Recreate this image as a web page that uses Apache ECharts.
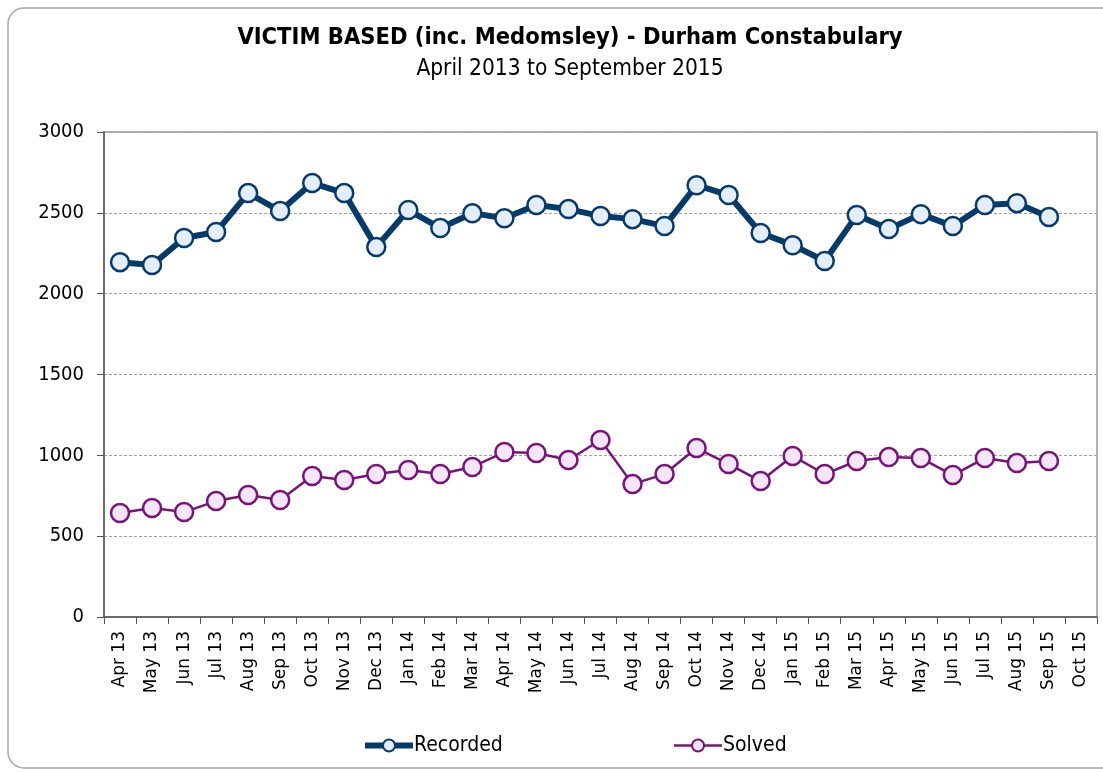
<!DOCTYPE html>
<html>
<head>
<meta charset="utf-8">
<script src="https://cdn.jsdelivr.net/npm/echarts@6/dist/echarts.min.js"></script>
<style>
  html, body { margin: 0; padding: 0; background: #fff; }
  #main { width: 1103px; height: 772px; }
</style>
</head>
<body>
<div id="main"></div>
<script>
var months = ['Apr 13','May 13','Jun 13','Jul 13','Aug 13','Sep 13','Oct 13','Nov 13','Dec 13',
  'Jan 14','Feb 14','Mar 14','Apr 14','May 14','Jun 14','Jul 14','Aug 14','Sep 14','Oct 14','Nov 14','Dec 14',
  'Jan 15','Feb 15','Mar 15','Apr 15','May 15','Jun 15','Jul 15','Aug 15','Sep 15','Oct 15'];

// Oct 15 has no value yet
var recorded = [2195, 2177, 2344, 2381, 2622, 2511, 2684, 2622, 2288,
  2517, 2406, 2498, 2467, 2548, 2523, 2480, 2461, 2418, 2671, 2610, 2375,
  2300, 2202, 2486, 2400, 2492, 2418, 2548, 2560, 2474, null];

var solved = [643, 674, 649, 717, 754, 724, 872, 847, 884,
  909, 884, 928, 1020, 1014, 971, 1095, 822, 884, 1045, 946, 841,
  996, 884, 965, 989, 983, 878, 983, 952, 965, null];

var yTicks = { min: 0, max: 3000, step: 500 };

var chart = echarts.init(document.getElementById('main'));

var font = 'DejaVu Sans Condensed, DejaVu Sans, sans-serif';

var option = {
  animation: false,
  graphic: [{
    type: 'rect',
    shape: { x: 8, y: 8, width: 1130, height: 760, r: 16 },
    style: { fill: 'none', stroke: '#a8a8a8', lineWidth: 1.5 },
    silent: true
  }],
  title: {
    text: 'VICTIM BASED (inc. Medomsley) - Durham Constabulary',
    subtext: 'April 2013 to September 2015',
    left: 565,
    textAlign: 'center',
    top: 21,
    itemGap: 8,
    textStyle: {
      fontFamily: font,
      fontWeight: 'bold',
      fontSize: 23.5,
      color: '#000'
    },
    subtextStyle: {
      fontFamily: font,
      fontSize: 22.5,
      color: '#000'
    }
  },
  legend: {
    left: 357,
    top: 730,
    itemWidth: 48,
    itemHeight: 15,
    itemGap: 170,
    textStyle: {
      fontFamily: font,
      fontSize: 21,
      color: '#000',
      padding: [0, 0, 0, -4]
    },
    data: [
      { name: 'Recorded', lineStyle: { width: 6 } },
      { name: 'Solved', lineStyle: { width: 2.5 } }
    ]
  },
  grid: {
    left: 104,
    right: 6,
    top: 132,
    bottom: 155,
    show: true,
    borderColor: '#9a9a9a',
    borderWidth: 1.5
  },
  xAxis: {
    type: 'category',
    data: months,
    boundaryGap: true,
    axisLine: { lineStyle: { color: '#555', width: 1.5 } },
    axisTick: { show: true, interval: 0, length: 7, lineStyle: { color: '#555' } },
    axisLabel: {
      interval: 0,
      rotate: 90,
      margin: 14,
      fontFamily: 'DejaVu Sans, Verdana, sans-serif',
      fontSize: 17,
      color: '#000'
    }
  },
  yAxis: {
    type: 'value',
    min: yTicks.min,
    max: yTicks.max,
    interval: yTicks.step,
    axisLine: { show: true, lineStyle: { color: '#555', width: 1.5 } },
    axisTick: { show: true, length: 7, lineStyle: { color: '#555' } },
    axisLabel: {
      margin: 20,
      fontFamily: font,
      fontSize: 20,
      color: '#000',
      formatter: function (v) { return String(v); }
    },
    splitLine: { lineStyle: { color: '#a0a0a0', type: [3, 2], width: 1 } }
  },
  series: [
    {
      name: 'Recorded',
      type: 'line',
      data: recorded,
      symbol: 'circle',
      symbolSize: 18,
      lineStyle: { color: '#063a6b', width: 6 },
      itemStyle: { color: '#e4eefb', borderColor: '#063a6b', borderWidth: 2.5 },
      z: 3
    },
    {
      name: 'Solved',
      type: 'line',
      data: solved,
      symbol: 'circle',
      symbolSize: 18,
      lineStyle: { color: '#79127a', width: 2.5 },
      itemStyle: { color: '#f3e6fa', borderColor: '#79127a', borderWidth: 2.5 },
      z: 2
    }
  ]
};

chart.setOption(option);
</script>
</body>
</html>
